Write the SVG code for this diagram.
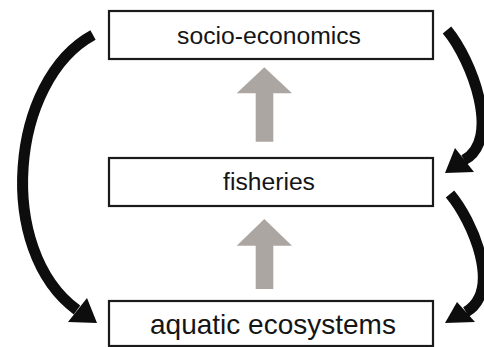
<svg xmlns="http://www.w3.org/2000/svg" width="484" height="347" viewBox="0 0 484 347">
<style>
.box{fill:#fff;stroke:#1a1a1a;stroke-width:2.2}
.lbl{font-family:"Liberation Sans",Arial,sans-serif;font-size:24.7px;fill:#151515;text-anchor:middle}
.big{font-size:28px}
.curve{fill:none;stroke:#0d0d0d;stroke-width:11;stroke-linecap:butt}
.head{fill:#0d0d0d}
.up{fill:#aba6a2}
</style>
<rect width="484" height="347" fill="#fff"/>
<g id="connectors">
<path class="curve" d="M93,35 C10,80 -5,250 77,310"/>
<polygon class="head" points="97,323 68,322 87,298"/>
<path class="curve" d="M447,30 C472,60 502,140 464,160"/>
<polygon class="head" points="445,173 455,148 474,172"/>
<path class="curve" d="M450,194 C472,220 503,290 466,312"/>
<polygon class="head" points="445,323 457,302 475,322"/>
<polygon class="up" points="264.3,67.3 292,93.3 273.3,93.3 273.3,141.7 255.7,141.7 255.7,93.3 236.7,93.3"/>
<polygon class="up" points="264.3,219 292,245.7 273.3,245.7 273.3,289 255.7,289 255.7,245.7 236.7,245.7"/>
</g>
<g id="socio-economics">
<rect class="box" x="109" y="11" width="324" height="48"/>
<text class="lbl" x="269" y="44">socio-economics</text>
</g>
<g id="fisheries">
<rect class="box" x="109" y="158" width="324" height="48"/>
<text class="lbl" x="269" y="190">fisheries</text>
</g>
<g id="aquatic-ecosystems">
<rect class="box" x="109" y="301" width="324" height="45"/>
<text class="lbl big" x="273" y="334">aquatic ecosystems</text>
</g>
</svg>
